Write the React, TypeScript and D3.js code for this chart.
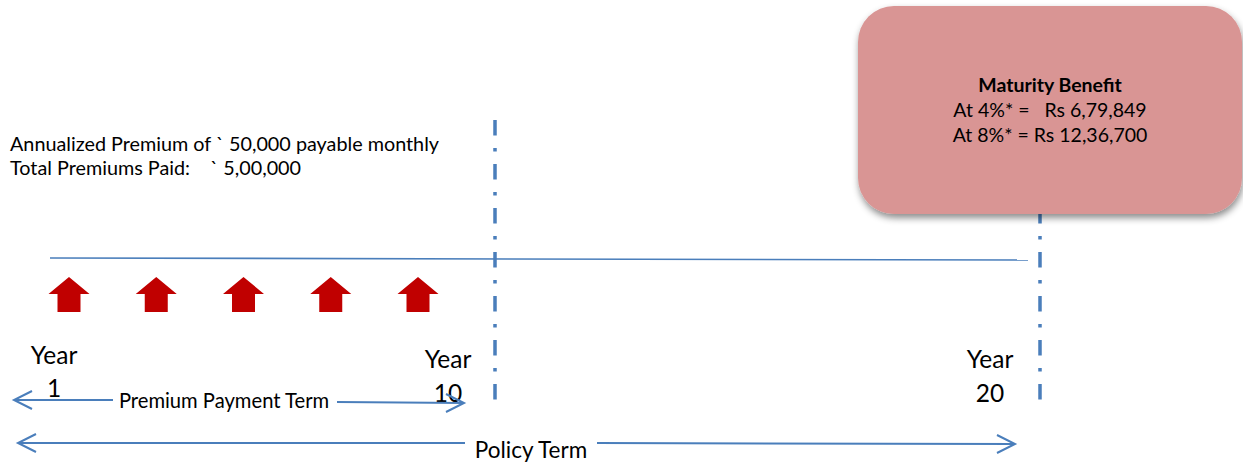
import React from 'react';
import * as d3 from 'd3';

// premium payment arrows (years with an up arrow)
const premiumYears = [1, 3, 5, 7, 9];
// year markers on the timeline
const yearMarks = ['1', '10', '20'];
const yearValues = [1, 10, 20];
// text blocks
const premiumLines = ['Annualized Premium of ` 50,000 payable monthly', 'Total Premiums Paid:    ` 5,00,000'];
const benefitTitle = 'Maturity Benefit';
const benefitLines = ['At 4%* =   Rs 6,79,849', 'At 8%* = Rs 12,36,700'];
const termLabels = ['Premium Payment Term', 'Policy Term'];

const W = 1243;
const H = 463;
const BLUE = '#4a7ebb';
const RED = '#c00000';
const FONT = 'Lato, "Open Sans", sans-serif';

export default function App() {
  const xYear = d3.scaleLinear().domain(yearValues).range([54, 448, 990]);
  const xArrow = d3.scaleLinear().domain([1, 9]).range([69, 418]);
  const line = d3.line<[number, number]>();

  // up arrow shape, centred at cx
  const upArrow = (cx: number): [number, number][] => [
    [cx, 277], [cx + 20.5, 294], [cx + 11.5, 294], [cx + 11.5, 312],
    [cx - 11.5, 312], [cx - 11.5, 294], [cx - 20.5, 294], [cx, 277],
  ];

  const chevron = (x: number, y: number, dir: number): [number, number][] => [
    [x + dir * 18, y - 9], [x, y], [x + dir * 18, y + 9],
  ];

  return (
    <svg width={W} height={H} style={{ position: 'absolute', left: 0, top: 0, background: '#fff' }}>
      <defs>
        <filter id="shadow" x="-10%" y="-10%" width="120%" height="130%">
          <feDropShadow dx="1" dy="4" stdDeviation="3.5" floodColor="#000" floodOpacity="0.45" />
        </filter>
      </defs>

      {/* premium text */}
      {premiumLines.map((t, i) => (
        <text key={t} x={10} y={151 + i * 24} fontFamily={FONT} fontSize={19.8} fill="#000" style={{ whiteSpace: 'pre' }}>{t}</text>
      ))}

      {/* dash-dot dividers */}
      <line x1={495} y1={120} x2={495} y2={400} stroke={BLUE} strokeWidth={3.5} strokeDasharray="15.5 12.5 3.5 12.5" />
      <line x1={1040} y1={208} x2={1040} y2={403} stroke={BLUE} strokeWidth={3.5} strokeDasharray="15.5 12.5 3.5 12.5" />

      {/* maturity box */}
      <rect x={858} y={6} width={384} height={208} rx={36} fill="#d99594" filter="url(#shadow)" />
      <text x={1050} y={92} textAnchor="middle" fontFamily={FONT} fontSize={19.5} fontWeight="bold">{benefitTitle}</text>
      {benefitLines.map((t, i) => (
        <text key={t} x={1050} y={117 + i * 25} textAnchor="middle" fontFamily={FONT} fontSize={19.5} style={{ whiteSpace: 'pre' }}>{t}</text>
      ))}

      {/* timeline */}
      <line x1={50} y1={258} x2={1028} y2={260} stroke={BLUE} strokeWidth={1.6} />

      {/* premium arrows */}
      {premiumYears.map((y) => (
        <path key={y} d={line(upArrow(xArrow(y))) ?? ''} fill={RED} />
      ))}

      {/* year labels */}
      {yearMarks.map((m, i) => (
        <g key={m} transform={`translate(${xYear(yearValues[i])},0)`} fontFamily={FONT} fontSize={24.5} textAnchor="middle">
          <text y={i === 0 ? 364 : 368}>Year</text>
          <text y={i === 0 ? 397 : 402}>{m}</text>
        </g>
      ))}

      {/* premium payment term arrow */}
      <g stroke={BLUE} strokeWidth={2} fill="none">
        <line x1={14} y1={400} x2={113} y2={400} />
        <line x1={337} y1={402} x2={464} y2={403} />
        <path d={line(chevron(14, 400, 1)) ?? ''} />
        <path d={line(chevron(464, 403, -1)) ?? ''} />
      </g>
      <text x={224} y={408} textAnchor="middle" fontFamily={FONT} fontSize={20.2}>{termLabels[0]}</text>

      {/* policy term arrow */}
      <g stroke={BLUE} strokeWidth={2} fill="none">
        <line x1={18} y1={443} x2={465} y2={443} />
        <line x1={597} y1={443} x2={1015} y2={444} />
        <path d={line(chevron(18, 443, 1)) ?? ''} />
        <path d={line(chevron(1015, 444, -1)) ?? ''} />
      </g>
      <text x={531} y={458} textAnchor="middle" fontFamily={FONT} fontSize={22.5}>{termLabels[1]}</text>
    </svg>
  );
}
